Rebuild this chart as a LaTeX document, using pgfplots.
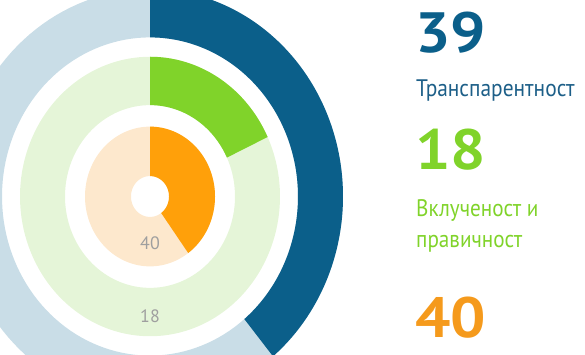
\documentclass[border=0pt]{standalone}
\usepackage{pgfplots}
\pgfplotsset{compat=1.18}
\usepackage{pgfplotstable}
\usepgfplotslibrary{fillbetween}
\usepackage{fontspec}
\setmainfont{PT Sans}
\definecolor{cBlue}{HTML}{0B5F8A}
\definecolor{cBlueBg}{HTML}{C9DDE7}
\definecolor{cGreen}{HTML}{80D32A}
\definecolor{cGreenBg}{HTML}{E5F5D8}
\definecolor{cOrange}{HTML}{FFA00A}
\definecolor{cOrangeBg}{HTML}{FDE8CD}
\definecolor{cLblBlue}{HTML}{1D5F88}
\definecolor{cLblOrange}{HTML}{F59A1C}

% value (percent of full circle), inner and outer radius (px)
\pgfplotstableread{
name value rin rout
T 39 148 193
I 18 85 130
P 40 19 65
}\ringdata
\pgfplotstablegetelem{0}{value}\of\ringdata \let\vT\pgfplotsretval
\pgfplotstablegetelem{1}{value}\of\ringdata \let\vI\pgfplotsretval
\pgfplotstablegetelem{2}{value}\of\ringdata \let\vP\pgfplotsretval

\newcommand{\ring}[5]{% name, value, rin, rout, colour
  \addplot[draw=none, name path=#1o, domain=0:#2, samples=150, variable=\t]
    ({150+#4*sin(3.6*\t)}, {-196.5+1.075*#4*cos(3.6*\t)});
  \addplot[draw=none, name path=#1i, domain=0:#2, samples=150, variable=\t]
    ({150+#3*sin(3.6*\t)}, {-196.5+1.075*#3*cos(3.6*\t)});
  \addplot[fill=#5, draw=none] fill between[of=#1o and #1i];
}

\begin{document}
\begin{tikzpicture}
\begin{axis}[
  scale only axis, width=585bp, height=355bp,
  xmin=0, xmax=585, ymin=-355, ymax=0,
  hide axis, clip=true,
]
\ring{Tb}{100}{148}{193}{cBlueBg}
\ring{Ib}{100}{85}{130}{cGreenBg}
\ring{Pb}{100}{19}{65}{cOrangeBg}
\ring{T}{\vT}{148}{193}{cBlue}
\ring{I}{\vI}{85}{130}{cGreen}
\ring{P}{\vP}{19}{65}{cOrange}

\node[font=\fontsize{18}{18}\selectfont, text=gray!75] at (axis cs:150,-243) {\vP};
\node[font=\fontsize{18}{18}\selectfont, text=gray!75] at (axis cs:150,-316) {\vI};

\node[anchor=base west, inner sep=0pt, text=cBlue, font=\fontsize{57}{57}\bfseries\selectfont] at (axis cs:415,-53) {\scalebox{1.1}[1]{\vT}};
\node[anchor=base west, inner sep=0pt, text=cLblBlue, font=\fontsize{24}{24}\selectfont] at (axis cs:416,-97) {\scalebox{0.895}[1]{Транспарентност}};
\node[anchor=base west, inner sep=0pt, text=cGreen, font=\fontsize{57}{57}\bfseries\selectfont] at (axis cs:415,-170) {\scalebox{1.1}[1]{\vI}};
\node[anchor=base west, inner sep=0pt, text=cGreen, font=\fontsize{24}{24}\selectfont] at (axis cs:416,-217) {\scalebox{0.885}[1]{Вклученост и}};
\node[anchor=base west, inner sep=0pt, text=cGreen, font=\fontsize{24}{24}\selectfont] at (axis cs:416,-248) {\scalebox{0.885}[1]{правичност}};
\node[anchor=base west, inner sep=0pt, text=cLblOrange, font=\fontsize{57}{57}\bfseries\selectfont] at (axis cs:415,-337) {\scalebox{1.1}[1]{\vP}};
\end{axis}
\end{tikzpicture}
\end{document}
